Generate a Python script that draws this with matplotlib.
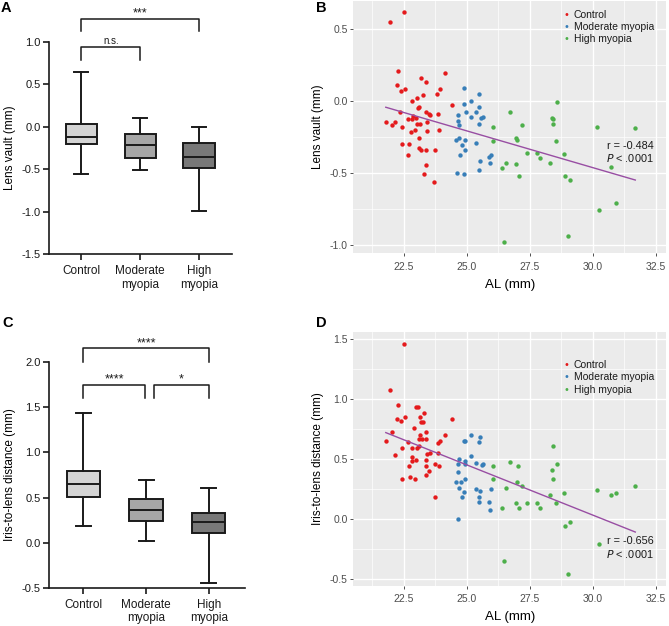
import matplotlib
matplotlib.use("Agg")
import matplotlib.pyplot as plt
import numpy as np

plt.rcParams['font.family'] = ['Liberation Sans', 'DejaVu Sans']
plt.rcParams['axes.unicode_minus'] = False

# ---------------- data ----------------
groups = ["Control", "Moderate\nmyopia", "High\nmyopia"]

# Panel A: lens vault box stats (whislo, q1, med, q3, whishi)
lv_whislo = [-0.56, -0.513, -0.995]
lv_q1 = [-0.207, -0.371, -0.489]
lv_med = [-0.117, -0.211, -0.356]
lv_q3 = [0.032, -0.089, -0.187]
lv_whishi = [0.647, 0.103, 0.0]

# Panel C: iris-to-lens distance box stats
il_whislo = [0.188, 0.014, -0.448]
il_q1 = [0.506, 0.236, 0.11]
il_med = [0.65, 0.365, 0.229]
il_q3 = [0.794, 0.484, 0.332]
il_whishi = [1.442, 0.698, 0.606]

box_colors = ["#d4d4d4", "#a6a6a6", "#787878"]

# Panel B scatter: AL vs lens vault
B_ctrl_x = [21.94, 22.49, 22.25, 22.22, 22.37, 22.55, 23.19, 23.36, 23.24, 23.03, 22.84, 24.13,
            23.93, 23.82, 24.41, 23.11, 23.04, 22.35, 23.36, 23.50, 23.53, 23.84, 21.78, 22.14,
            22.02, 22.42, 22.66, 22.82, 22.88, 22.97, 23.01, 23.13, 23.42, 22.93, 23.11, 23.40,
            23.89, 22.42, 22.72, 23.11, 23.16, 23.37, 23.73, 22.68, 23.37, 23.29, 23.71, 22.79]
B_ctrl_y = [0.551, 0.62, 0.21, 0.111, 0.072, 0.081, 0.162, 0.132, 0.042, 0.023, 0.002, 0.192,
            0.081, 0.051, -0.028, -0.039, -0.049, -0.079, -0.079, -0.088, -0.097, -0.088, -0.148, -0.148,
            -0.169, -0.178, -0.127, -0.127, -0.104, -0.118, -0.157, -0.157, -0.148, -0.199, -0.259, -0.208,
            -0.199, -0.299, -0.299, -0.329, -0.338, -0.338, -0.338, -0.377, -0.447, -0.509, -0.56, -0.218]
B_mod_x = [24.88, 25.47, 25.15, 24.90, 25.48, 24.98, 25.35, 25.18, 24.66, 25.56, 25.66, 24.64,
           24.70, 25.47, 24.57, 24.68, 24.94, 24.79, 25.35, 24.94, 24.74, 25.86, 25.97, 25.53,
           25.91, 25.49, 24.62, 24.87]
B_mod_y = [0.09, 0.051, 0.002, -0.019, -0.039, -0.079, -0.079, -0.109, -0.10, -0.118, -0.109, -0.139,
           -0.169, -0.16, -0.269, -0.259, -0.269, -0.308, -0.289, -0.338, -0.377, -0.389, -0.377, -0.419,
           -0.428, -0.479, -0.498, -0.509]
B_high_x = [26.04, 26.04, 26.73, 27.20, 26.99, 26.97, 27.37, 27.80, 27.92, 28.31, 26.57, 26.41,
            26.94, 27.06, 28.59, 28.37, 28.43, 28.43, 28.55, 28.86, 28.90, 29.11, 29.00, 26.49,
            30.16, 31.69, 30.71, 30.94, 30.26]
B_high_y = [-0.178, -0.278, -0.079, -0.169, -0.269, -0.259, -0.359, -0.359, -0.398, -0.428, -0.428, -0.468,
            -0.438, -0.519, -0.009, -0.118, -0.127, -0.157, -0.278, -0.368, -0.519, -0.549, -0.938, -0.977,
            -0.178, -0.188, -0.458, -0.708, -0.759]
B_fit = [-0.051, 1.067]   # slope, intercept
B_r_text = "r = -0.484"

# Panel D scatter: AL vs iris-to-lens distance
D_ctrl_x = [22.50, 21.94, 21.78, 22.03, 22.15, 22.25, 22.24, 22.37, 22.55, 22.42, 22.43, 22.67,
            22.70, 22.74, 22.82, 22.83, 22.84, 22.90, 22.94, 22.98, 23.06, 22.99, 23.03, 23.11,
            23.11, 23.20, 23.15, 23.15, 23.19, 23.26, 23.29, 23.37, 23.37, 23.37, 23.37, 23.36,
            23.42, 23.50, 23.53, 23.73, 23.72, 23.84, 23.93, 23.86, 23.90, 24.13, 24.42]
D_ctrl_y = [1.458, 1.081, 0.65, 0.725, 0.536, 0.95, 0.836, 0.817, 0.856, 0.592, 0.336, 0.647,
            0.444, 0.353, 0.519, 0.592, 0.483, 0.764, 0.336, 0.933, 0.933, 0.497, 0.592, 0.611,
            0.669, 0.669, 0.85, 0.703, 0.811, 0.811, 0.889, 0.725, 0.669, 0.497, 0.447, 0.369,
            0.544, 0.406, 0.556, 0.461, 0.183, 0.639, 0.656, 0.556, 0.444, 0.706, 0.833]
D_mod_x = [25.16, 25.51, 24.92, 24.87, 25.48, 25.16, 24.70, 24.92, 24.65, 24.92, 25.35, 25.59,
           25.66, 24.65, 24.58, 24.77, 24.92, 24.70, 24.88, 24.79, 25.35, 25.53, 25.48, 25.47,
           25.97, 25.86, 25.91, 24.64]
D_mod_y = [0.70, 0.686, 0.653, 0.65, 0.644, 0.531, 0.50, 0.483, 0.461, 0.461, 0.467, 0.456,
           0.464, 0.392, 0.308, 0.308, 0.336, 0.261, 0.225, 0.186, 0.256, 0.239, 0.189, 0.142,
           0.253, 0.142, 0.078, 0.0]
D_high_x = [26.04, 26.73, 27.02, 26.05, 26.57, 26.98, 27.20, 26.94, 27.06, 27.37, 27.80, 27.92,
            26.41, 28.42, 28.59, 28.39, 28.44, 28.31, 28.86, 28.55, 28.90, 29.11, 30.16, 30.71,
            30.94, 31.69, 30.26, 26.49, 29.00]
D_high_y = [0.447, 0.481, 0.447, 0.333, 0.258, 0.314, 0.278, 0.133, 0.092, 0.133, 0.133, 0.092,
            0.092, 0.608, 0.464, 0.408, 0.336, 0.206, 0.222, 0.133, -0.056, -0.025, 0.242, 0.20,
            0.222, 0.281, -0.203, -0.35, -0.458]
D_fit = [-0.0836, 2.543]
D_r_text = "r = -0.656"

scatter_colors = ["#E41A1C", "#377EB8", "#4DAF4A"]
legend_labels = ["Control", "Moderate myopia", "High myopia"]
fit_color = "#984EA3"

# ---------------- figure ----------------
W, H = 669, 626
fig = plt.figure(figsize=(W / 100, H / 100), dpi=100)


def frac(l, t, r, b):
    return [l / W, (H - b) / H, (r - l) / W, (b - t) / H]


def box_panel(ax, whislo, q1, med, q3, whishi, ylim, yticks, ylabel, xlim):
    stats = []
    for i in range(len(groups)):
        stats.append(dict(whislo=whislo[i], q1=q1[i], med=med[i], q3=q3[i], whishi=whishi[i]))
    pos = np.arange(len(groups))
    bp = ax.bxp(stats, positions=pos, widths=0.53, capwidths=0.24, showfliers=False,
                patch_artist=True,
                boxprops=dict(linewidth=1.4, edgecolor="#1a1a1a"),
                medianprops=dict(color="#1a1a1a", linewidth=1.4),
                whiskerprops=dict(color="#1a1a1a", linewidth=1.4),
                capprops=dict(color="#1a1a1a", linewidth=1.4))
    for patch, c in zip(bp['boxes'], box_colors):
        patch.set_facecolor(c)
    ax.set_xlim(*xlim)
    ax.set_ylim(*ylim)
    ax.set_yticks(yticks)
    ax.set_yticklabels([f"{v:.1f}" for v in yticks])
    ax.set_xticks(pos)
    ax.set_xticklabels(groups, fontsize=8.5, linespacing=1.15)
    ax.set_ylabel(ylabel, fontsize=8.5, labelpad=4)
    for s in ["top", "right"]:
        ax.spines[s].set_visible(False)
    for s in ["left", "bottom"]:
        ax.spines[s].set_linewidth(1.2)
        ax.spines[s].set_color("#1a1a1a")
    ax.tick_params(axis="y", labelsize=8, length=4, width=1.2, colors="#1a1a1a", pad=2)
    ax.tick_params(axis="x", length=4, width=1.2, colors="#1a1a1a", pad=4)
    ax.set_facecolor("white")


def bracket(ax, x0, x1, y, leg, text, fs, ty):
    ax.plot([x0, x0, x1, x1], [y - leg, y, y, y - leg], color="#1a1a1a", lw=1.1, clip_on=False)
    ax.text((x0 + x1) / 2, y + ty, text, ha="center", va="bottom", fontsize=fs, color="#1a1a1a",
            clip_on=False)


# Panel A
axA = fig.add_axes(frac(49, 41.7, 232, 254.3))
box_panel(axA, lv_whislo, lv_q1, lv_med, lv_q3, lv_whishi, (-1.5, 1.0),
          [-1.5, -1.0, -0.5, 0.0, 0.5, 1.0], "Lens vault (mm)", (-0.55, 2.56))
bracket(axA, 0, 2, 1.266, 0.146, "***", 9, -0.01)
bracket(axA, 0, 1, 0.94, 0.16, "n.s.", 7, 0.01)

# Panel C
axC = fig.add_axes(frac(49, 362.3, 245, 587.7))
box_panel(axC, il_whislo, il_q1, il_med, il_q3, il_whishi, (-0.5, 2.0),
          [-0.5, 0.0, 0.5, 1.0, 1.5, 2.0], "Iris-to-lens distance (mm)", (-0.55, 2.58))
bracket(axC, 0, 2, 2.155, 0.148, "****", 9, -0.01)
bracket(axC, 0, 0.98, 1.749, 0.141, "****", 9, -0.01)
bracket(axC, 1.13, 2, 1.749, 0.141, "*", 9, -0.01)


def scatter_panel(ax, xs, ys, fit, rtext, ylim, yticks, yminor, ylabel, leg_y, ann_y):
    ax.set_facecolor("#EBEBEB")
    xmaj = [22.5, 25.0, 27.5, 30.0, 32.5]
    xmin = [21.25, 23.75, 26.25, 28.75, 31.25]
    for v in xmin:
        ax.axvline(v, color="white", lw=0.5, zorder=0)
    for v in yminor:
        ax.axhline(v, color="white", lw=0.5, zorder=0)
    for v in xmaj:
        ax.axvline(v, color="white", lw=1.0, zorder=0)
    for v in yticks:
        ax.axhline(v, color="white", lw=1.0, zorder=0)
    for (x, y), c in zip(zip(xs, ys), scatter_colors):
        ax.scatter(x, y, s=10, color=c, zorder=3, linewidths=0)
    allx = np.concatenate([np.asarray(x) for x in xs])
    lx = np.array([allx.min(), allx.max()])
    ax.plot(lx, fit[0] * lx + fit[1], color=fit_color, lw=1.0, zorder=4)
    ax.set_xlim(20.49, 32.91)
    ax.set_ylim(*ylim)
    ax.set_xticks(xmaj)
    ax.set_xticklabels([f"{v:.1f}" for v in xmaj])
    ax.set_yticks(yticks)
    ax.set_yticklabels([f"{v:.1f}" for v in yticks])
    for s in ax.spines.values():
        s.set_visible(False)
    ax.tick_params(axis="x", labelsize=7.5, length=2, width=0.6, colors="#333333",
                   labelcolor="#4D4D4D", pad=4)
    ax.tick_params(axis="y", labelsize=7.5, length=2, width=0.6, colors="#333333",
                   labelcolor="#4D4D4D", pad=2)
    ax.set_xlabel("AL (mm)", fontsize=9.5, labelpad=5, color="black")
    ax.set_ylabel(ylabel, fontsize=8.5, labelpad=4, color="black")
    # legend (manual)
    for i, (lab, c) in enumerate(zip(legend_labels, scatter_colors)):
        yy = leg_y + i * 12.4
        fig.text(566 / W, 1 - yy / H, "\u2022", color=c, fontsize=7, ha="center", va="center",
                 family="DejaVu Sans")
        fig.text(574 / W, 1 - yy / H, lab, color="#1a1a1a", fontsize=7.5, ha="left", va="center")
    fig.text(654 / W, 1 - ann_y / H, rtext, color="#1a1a1a", fontsize=7.8, ha="right", va="center")
    fig.text(654 / W, 1 - (ann_y + 12.4) / H, r"$\it{P}$ < .0001", color="#1a1a1a", fontsize=7.8,
             ha="right", va="center")


axB = fig.add_axes(frac(353.3, 1, 666, 253.3))
scatter_panel(axB, [B_ctrl_x, B_mod_x, B_high_x], [B_ctrl_y, B_mod_y, B_high_y], B_fit, B_r_text,
              (-1.058, 0.694), [-1.0, -0.5, 0.0, 0.5], [-0.75, -0.25, 0.25],
              "Lens vault (mm)", 14.7, 146)

axD = fig.add_axes(frac(353.3, 331.7, 666, 586))
scatter_panel(axD, [D_ctrl_x, D_mod_x, D_high_x], [D_ctrl_y, D_mod_y, D_high_y], D_fit, D_r_text,
              (-0.556, 1.563), [-0.5, 0.0, 0.5, 1.0, 1.5], [-0.25, 0.25, 0.75, 1.25],
              "Iris-to-lens distance (mm)", 365, 541.3)

# panel letters
for lab, x, y in [("A", 6, 8), ("B", 321, 8), ("C", 8, 323), ("D", 321, 323)]:
    fig.text(x / W, 1 - y / H, lab, fontsize=10.5, fontweight="bold", ha="center", va="center")

fig.savefig("out.png", dpi=100)
